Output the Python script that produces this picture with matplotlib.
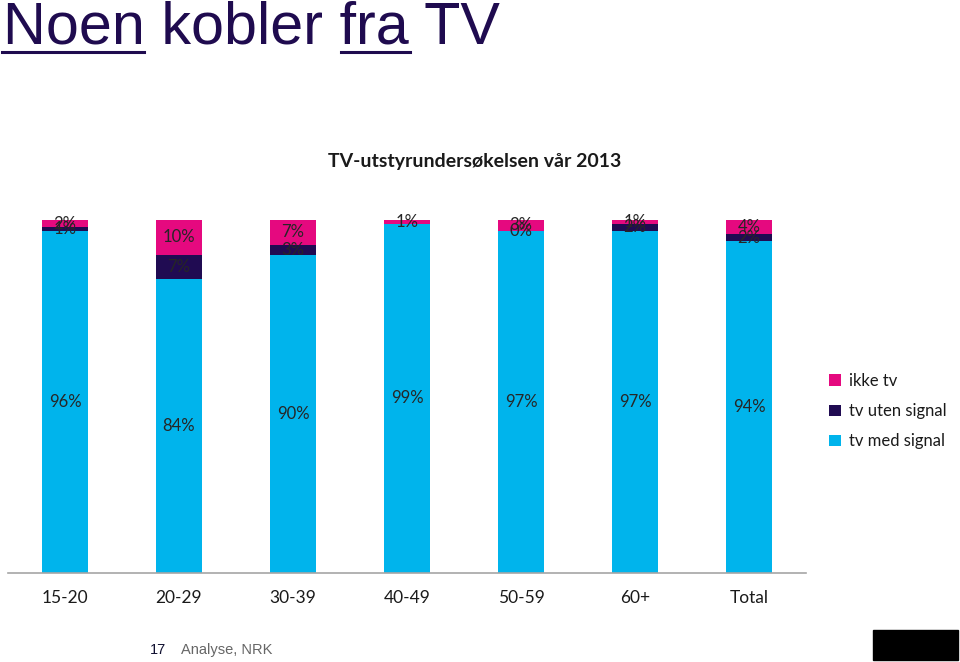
import numpy as np
import matplotlib.pyplot as plt
from matplotlib.lines import Line2D
from matplotlib.patches import Rectangle

categories = ['15-20', '20-29', '30-39', '40-49', '50-59', '60+', 'Total']
tv_med_signal = [96, 84, 90, 99, 97, 97, 94]
tv_uten_signal = [1, 7, 3, np.nan, 0, 2, 2]
ikke_tv = [2, 10, 7, 1, 3, 1, 4]

pink = '#E5097F'
navy = '#200B52'
cyan = '#00B4EC'
title_col = '#1F0B4F'
lab_col = '#262626'

fig = plt.figure(figsize=(9.6, 6.62), dpi=100)
W, H = 960, 662

# slide title
fig.text(3 / W, 1 - 28 / H, 'Noen kobler fra TV', fontsize=42.7, color=title_col,
         family='Liberation Sans', va='center', ha='left')
for x0, x1 in [(2, 144), (341, 410)]:
    fig.add_artist(Line2D([x0 / W, x1 / W], [1 - 52 / H, 1 - 52 / H],
                          color=title_col, lw=2.2))

ax = fig.add_axes([8 / W, 1 - 573 / H, (806 - 8) / W, (573 - 220) / H])

med = np.array(tv_med_signal, float)
uten = np.nan_to_num(np.array(tv_uten_signal, float))
ikke = np.array(ikke_tv, float)
tot = med + uten + ikke
p_med = med / tot * 100
p_uten = uten / tot * 100
p_ikke = ikke / tot * 100

x = np.arange(len(categories))
w = 0.4
b1 = ax.bar(x, p_med, w, color=cyan, label='tv med signal')
b2 = ax.bar(x, p_uten, w, bottom=p_med, color=navy, label='tv uten signal')
b3 = ax.bar(x, p_ikke, w, bottom=p_med + p_uten, color=pink, label='ikke tv')

lab_font = dict(family='Lato', fontsize=12, color=lab_col, ha='center', va='center')
for i in range(len(categories)):
    ax.text(x[i], p_med[i] / 2, f'{tv_med_signal[i]:.0f}%', **lab_font)
    if not np.isnan(tv_uten_signal[i]):
        ax.text(x[i], p_med[i] + p_uten[i] / 2, f'{tv_uten_signal[i]:.0f}%', **lab_font)
    ax.text(x[i], p_med[i] + p_uten[i] + p_ikke[i] / 2, f'{ikke_tv[i]:.0f}%', **lab_font)

ax.set_xlim(-0.5, len(categories) - 0.5)
ax.set_ylim(0, 100)
ax.set_xticks(x)
ax.set_xticklabels(categories, family='Lato', fontsize=12.5, color='#1a1a1a')
ax.tick_params(axis='x', length=0, pad=12)
ax.set_yticks([])
for s in ['top', 'right', 'left']:
    ax.spines[s].set_visible(False)
ax.spines['bottom'].set_color('#a6a6a6')
ax.spines['bottom'].set_linewidth(1.2)

fig.text(475 / W, 1 - 162 / H, 'TV-utstyrundersøkelsen vår 2013', family='Lato',
         fontweight='bold', fontsize=14, color='#1a1a1a', ha='center', va='center')

leg = fig.legend(handles=[b3, b2, b1], labels=['ikke tv', 'tv uten signal', 'tv med signal'],
                 loc='upper left', bbox_to_anchor=(814 / W, 1 - 358 / H), frameon=False,
                 prop=dict(family='Lato', size=12), handlelength=0.7, handleheight=0.7,
                 handletextpad=0.5, labelspacing=0.85)
for t in leg.get_texts():
    t.set_color('#1a1a1a')

# footer
fig.text(150 / W, 1 - 650 / H, '17', family='Liberation Sans', fontsize=10.5,
         color='#101030', va='center')
fig.text(181 / W, 1 - 650 / H, 'Analyse, NRK', family='Liberation Sans', fontsize=10.5,
         color='#666666', va='center')
fig.add_artist(Rectangle((873 / W, 1 - 660 / H), 85 / W, 30 / H, color='black'))

fig.savefig('out.png', dpi=100)
